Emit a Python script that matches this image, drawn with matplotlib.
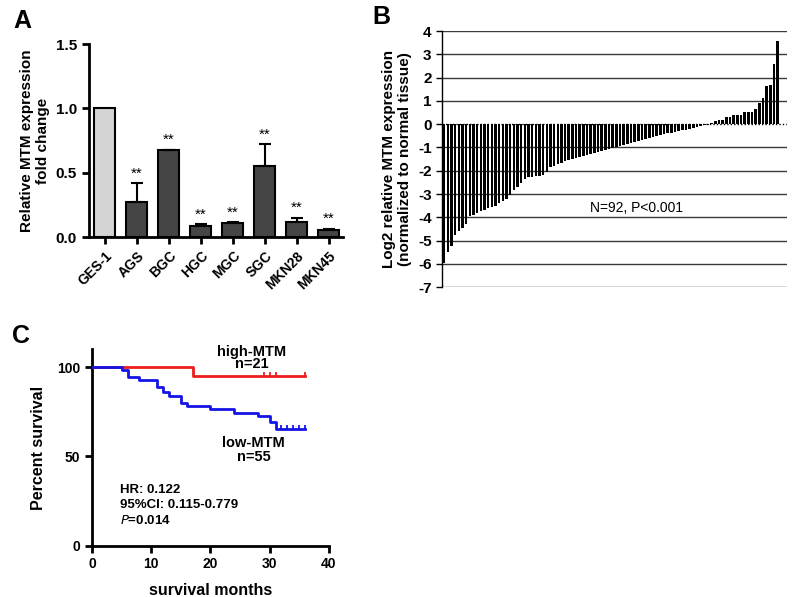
import matplotlib
matplotlib.use("Agg")
import matplotlib.pyplot as plt
import numpy as np

plt.rcParams['font.family'] = ['Liberation Sans', 'DejaVu Sans']

# ---------------- Panel A data ----------------
cell_lines = ["GES-1", "AGS", "BGC", "HGC", "MGC", "SGC", "MKN28", "MKN45"]
fold_change = [1.0, 0.27, 0.675, 0.085, 0.11, 0.55, 0.12, 0.055]
fold_err = [0.0, 0.15, 0.005, 0.015, 0.005, 0.17, 0.03, 0.01]
sig_marks = ["", "**", "**", "**", "**", "**", "**", "**"]

# ---------------- Panel B data ----------------
log2_expr = [
    -5.98, -5.5, -5.24, -4.75, -4.57, -4.46, -4.3, -3.95, -3.9, -3.8,
    -3.75, -3.68, -3.6, -3.56, -3.5, -3.4, -3.3, -3.2, -3.03, -2.82,
    -2.68, -2.54, -2.35, -2.25, -2.25, -2.24, -2.23, -2.2, -2.05, -1.85,
    -1.78, -1.72, -1.66, -1.6, -1.55, -1.5, -1.45, -1.42, -1.38, -1.33,
    -1.28, -1.24, -1.2, -1.16, -1.12, -1.08, -1.04, -1.0, -0.95, -0.9,
    -0.86, -0.82, -0.78, -0.72, -0.67, -0.62, -0.58, -0.54, -0.5, -0.47,
    -0.44, -0.4, -0.37, -0.34, -0.3, -0.27, -0.23, -0.19, -0.15, -0.11,
    -0.08, -0.05, -0.02,
    0.03, 0.13, 0.17, 0.2, 0.3, 0.3, 0.38, 0.41, 0.41, 0.54,
    0.54, 0.54, 0.66, 0.89, 1.14, 1.66, 1.7, 2.6, 3.57,
]
b_yticks = [4, 3, 2, 1, 0, -1, -2, -3, -4, -5, -6, -7]

# ---------------- Panel C data ----------------
high_times = [0, 17, 36]
high_surv = [100, 95.2, 95.2]
high_censor_t = [29, 30, 31, 36]
low_times = [0, 5, 6, 8, 11, 12, 13, 15, 16, 20, 24, 28, 30, 31, 36]
low_surv = [100, 98.2, 94.5, 92.7, 89.1, 85.9, 83.8, 80.0, 78.2, 76.4, 74.5, 72.7, 69.1, 65.5, 65.5]
low_censor_t = [32, 33, 34, 35, 36]

fig = plt.figure(figsize=(8.0, 5.97), dpi=100)

# ================= Panel A =================
axA = fig.add_axes([0.111, 0.603, 0.318, 0.323])
x = np.arange(len(cell_lines))
colors = ["#d4d4d4"] + ["#454545"] * (len(cell_lines) - 1)
axA.bar(x, fold_change, width=0.66, color=colors, edgecolor="black", linewidth=1.5, zorder=2)
for xi, v, e in zip(x, fold_change, fold_err):
    if e > 0:
        axA.errorbar(xi, v, yerr=[[0], [e]], fmt="none", ecolor="black",
                     elinewidth=1.5, capsize=4, capthick=1.5, zorder=3)
for xi, v, e, s in zip(x, fold_change, fold_err, sig_marks):
    if s:
        axA.text(xi, v + e + 0.02, s, ha="center", va="bottom", fontsize=11)
axA.set_xlim(-0.5, 7.45)
axA.set_ylim(0, 1.5)
axA.set_yticks([0.0, 0.5, 1.0, 1.5])
axA.set_yticklabels(["0.0", "0.5", "1.0", "1.5"], fontsize=11, fontweight="bold")
axA.set_xticks(x)
axA.set_xticklabels(cell_lines, rotation=45, ha="right", rotation_mode="anchor",
                    fontsize=10, fontweight="bold")
for sp in ["top", "right"]:
    axA.spines[sp].set_visible(False)
for sp in ["left", "bottom"]:
    axA.spines[sp].set_linewidth(2)
axA.tick_params(width=2, length=5, direction="out")
axA.set_ylabel("Relative MTM expression\nfold change", fontsize=11, fontweight="bold", labelpad=4)
fig.text(0.017, 0.965, "A", fontsize=18, fontweight="bold", va="center")

# ================= Panel B =================
axB = fig.add_axes([0.5525, 0.519, 0.431, 0.429])
xb = np.arange(len(log2_expr))
for yv in b_yticks:
    if yv != 0:
        axB.axhline(yv, color="#3a3a3a", linewidth=1.0, zorder=1)
axB.axhline(0, color="black", linewidth=1.0, linestyle=(0, (1, 1.5)), zorder=1)
axB.bar(xb, log2_expr, width=0.7, color="black", edgecolor="none", zorder=2)
axB.set_xlim(-0.6, 93.5)
axB.set_ylim(-7, 4)
axB.set_yticks(b_yticks)
axB.set_yticklabels([str(v) for v in b_yticks], fontsize=11, fontweight="bold")
axB.set_xticks([])
for sp in ["top", "right", "bottom"]:
    axB.spines[sp].set_visible(False)
axB.spines["left"].set_linewidth(1.0)
axB.tick_params(axis="y", length=4, width=1)
axB.set_ylabel("Log2 relative MTM expression\n(normalized to normal tissue)",
               fontsize=11, fontweight="bold", labelpad=4)
axB.text(52.5, -3.6, "N=92, P<0.001", ha="center", va="center", fontsize=10)
fig.text(0.466, 0.972, "B", fontsize=18, fontweight="bold", va="center")

# ================= Panel C =================
axC = fig.add_axes([0.115, 0.086, 0.296, 0.329])
axC.step(high_times, high_surv, where="post", color="#ee1c1c", linewidth=2, zorder=3)
axC.step(low_times, low_surv, where="post", color="#1414e6", linewidth=2, zorder=3)
axC.plot(high_censor_t, [high_surv[-1] + 1 for _ in high_censor_t], linestyle="none",
         marker="|", markersize=3, markeredgewidth=1.3, color="#ee1c1c", zorder=3)
axC.plot(low_censor_t, [low_surv[-1] + 1 for _ in low_censor_t], linestyle="none",
         marker="|", markersize=3, markeredgewidth=1.3, color="#1414e6", zorder=3)
axC.set_xlim(0, 40)
axC.set_ylim(0, 110)
axC.set_xticks([0, 10, 20, 30, 40])
axC.set_xticklabels(["0", "10", "20", "30", "40"], fontsize=10, fontweight="bold")
axC.set_yticks([0, 50, 100])
axC.set_yticklabels(["0", "50", "100"], fontsize=10, fontweight="bold")
for sp in ["top", "right"]:
    axC.spines[sp].set_visible(False)
for sp in ["left", "bottom"]:
    axC.spines[sp].set_linewidth(2)
axC.tick_params(width=2, length=5, direction="out")
axC.set_ylabel("Percent survival", fontsize=11.5, fontweight="bold", labelpad=8)
axC.set_xlabel("survival months", fontsize=11.5, fontweight="bold", labelpad=8)
axC.text(27, 108.5, "high-MTM", ha="center", va="center", fontsize=10.5, fontweight="bold")
axC.text(27, 101.5, "n=21", ha="center", va="center", fontsize=10.5, fontweight="bold")
axC.text(27.3, 57.5, "low-MTM", ha="center", va="center", fontsize=10.5, fontweight="bold")
axC.text(27.3, 49.5, "n=55", ha="center", va="center", fontsize=10.5, fontweight="bold")
axC.text(4.8, 31, "HR: 0.122", ha="left", va="center", fontsize=9.5, fontweight="bold")
axC.text(4.8, 22.7, "95%CI: 0.115-0.779", ha="left", va="center", fontsize=9.5, fontweight="bold")
axC.text(4.8, 14.3, r"$\bf{\it{P}}$=0.014", ha="left", va="center", fontsize=9.5, fontweight="bold")
fig.text(0.015, 0.437, "C", fontsize=18, fontweight="bold", va="center")

fig.savefig("out.png", dpi=100)
